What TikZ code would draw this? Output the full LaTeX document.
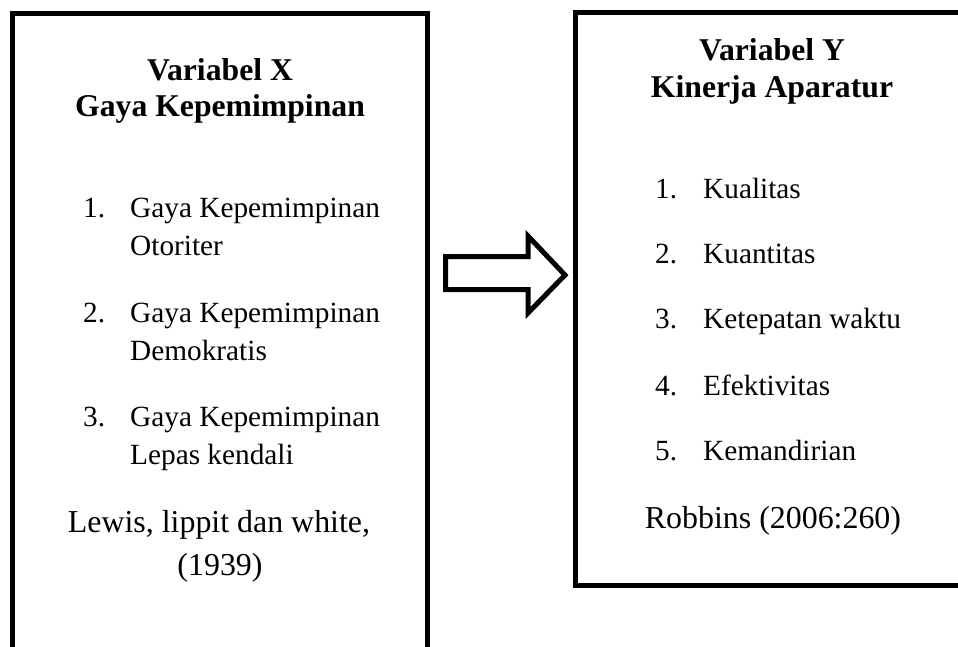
\documentclass[tikz,border=0pt]{standalone}
\usepackage{fontspec}
\setmainfont{Liberation Serif}
\begin{document}
\begin{tikzpicture}[x=1pt,y=-1pt,
  box/.style={draw=black,line width=5pt,fill=none,rectangle,inner sep=0pt,outer sep=0pt,anchor=north west},
  head/.style={inner sep=0pt,anchor=base,font=\fontsize{31.7}{36}\selectfont\bfseries},
  body/.style={inner sep=0pt,anchor=base west,font=\fontsize{29.3}{35}\selectfont},
  cite/.style={inner sep=0pt,anchor=base,font=\fontsize{31.9}{36}\selectfont}]
\useasboundingbox (0,0) rectangle (958,646);
\clip (0,0) rectangle (958,646);
\fill[white] (0,0) rectangle (958,646);
% boxes
\node[box,minimum width=415pt,minimum height=660pt] (boxX) at (12.5,13) {};
\node[box,minimum width=397pt,minimum height=573pt] (boxY) at (575.5,12) {};
% left box text
\node[head] (hx1) at (220,80) {Variabel X};
\node[head] (hx2) at (220,116) {Gaya Kepemimpinan};
\node[body] (n1) at (83,217) {1.};
\node[body] (t1a) at (130,217) {Gaya Kepemimpinan};
\node[body] (t1b) at (130,255) {Otoriter};
\node[body] (n2) at (83,322) {2.};
\node[body] (t2a) at (130,322) {Gaya Kepemimpinan};
\node[body] (t2b) at (130,360) {Demokratis};
\node[body] (n3) at (83,426) {3.};
\node[body] (t3a) at (130,426) {Gaya Kepemimpinan};
\node[body] (t3b) at (130,464) {Lepas kendali};
\node[cite] (cx1) at (219,532) {Lewis, lippit dan white,};
\node[cite] (cx2) at (220,575) {(1939)};
% right box text
\node[head] (hy1) at (772,60) {Variabel Y};
\node[head] (hy2) at (772,97) {Kinerja Aparatur};
\node[body] (m1) at (655,198) {1.};
\node[body] (k1) at (703,198) {Kualitas};
\node[body] (m2) at (655,263) {2.};
\node[body] (k2) at (703,263) {Kuantitas};
\node[body] (m3) at (655,328) {3.};
\node[body] (k3) at (703,328) {Ketepatan waktu};
\node[body] (m4) at (655,395) {4.};
\node[body] (k4) at (703,395) {Efektivitas};
\node[body] (m5) at (655,460) {5.};
\node[body] (k5) at (703,460) {Kemandirian};
\node[cite] (cy) at (773,528) {Robbins (2006:260)};
% block arrow
\draw[line width=5pt,line join=miter,fill=white]
  (445.5,256.5) -- (528,256.5) -- (528,236) -- (565,275) -- (528,313) -- (528,289.5) -- (445.5,289.5) -- cycle;
\end{tikzpicture}
\end{document}
